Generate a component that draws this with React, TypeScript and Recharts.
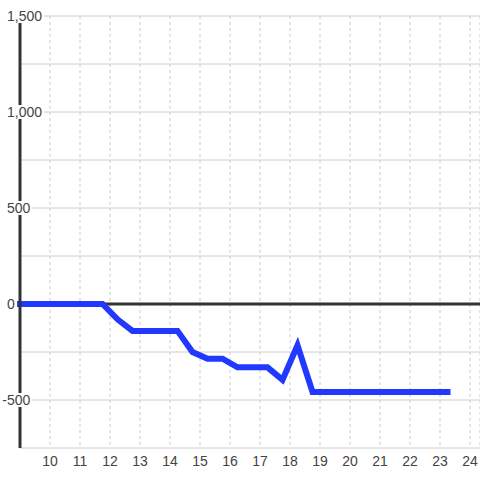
import React from 'react';
import { LineChart, Line, XAxis, YAxis, CartesianGrid, ReferenceLine } from 'recharts';

const xValues = [9, 11.75, 12.25, 12.75, 14.25, 14.75, 15.25, 15.75, 16.25, 17.25, 17.75, 18.25, 18.75, 23.25];
const yValues = [0, 0, -80, -140, -140, -250, -285, -285, -330, -330, -395, -215, -458, -458];
const xTicks = [10, 11, 12, 13, 14, 15, 16, 17, 18, 19, 20, 21, 22, 23, 24];
const yGridTicks = [-750, -500, -250, 0, 250, 500, 750, 1000, 1250, 1500];
const yLabelStep = 500;

const data = xValues.map((x, i) => ({ x, y: yValues[i] }));

const FONT = '"Liberation Sans", Arial, sans-serif';
const BG = '#ffffff';

const fmt = (v: number) => v.toLocaleString('en-US');

const YTick = (props: any) => {
  const { y, payload } = props;
  const v = payload.value as number;
  if (v % yLabelStep !== 0) return null;
  const label = fmt(v);
  let w = 0;
  for (const c of label) w += c === ',' ? 3.9 : c === '-' ? 4.7 : 7.8;
  const startX = 7 - (v < 0 ? 4.7 : 0);
  return (
    <g>
      <rect x={startX - 1} y={y - 7} width={w + 3} height={14} fill={BG} />
      <text x={startX} y={y + 5} fontSize={14} fontFamily={FONT} fill="#444" textAnchor="start">
        {label}
      </text>
    </g>
  );
};

export default function App() {
  return (
    <div style={{ position: 'absolute', left: 0, top: 0, width: 480, height: 480, background: BG }}>
      <LineChart width={480} height={480} data={data} margin={{ top: 16, right: 0, bottom: 0, left: 0 }}>
        <CartesianGrid vertical={false} stroke="#ccc" strokeWidth={1} />
        <CartesianGrid horizontal={false} stroke="#ccc" strokeDasharray="3 3" strokeWidth={1} />
        <XAxis
          dataKey="x"
          type="number"
          domain={[9, 24.333]}
          ticks={xTicks}
          interval={0}
          axisLine={false}
          tickLine={false}
          height={32}
          tick={{ fontSize: 14, fontFamily: FONT, fill: '#444' }}
        />
        <YAxis
          type="number"
          domain={[-750, 1500]}
          ticks={yGridTicks}
          interval={0}
          width={20}
          axisLine={{ stroke: '#333', strokeWidth: 3 }}
          tickLine={false}
          tick={<YTick />}
        />
        <ReferenceLine y={0} stroke="#333" strokeWidth={3} />
        <Line
          dataKey="y"
          stroke="#2238ff"
          strokeWidth={6}
          strokeLinecap="square"
          strokeLinejoin="miter"
          dot={false}
          isAnimationActive={false}
        />
      </LineChart>
    </div>
  );
}
